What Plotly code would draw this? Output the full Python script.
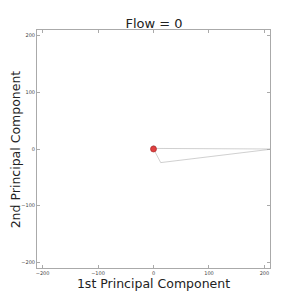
import plotly.graph_objects as go

path_x = [0, 215, 13, 0]
path_y = [1, 0, -24, 0]
point_x = [0]
point_y = [0]
tick_vals = [-200, -100, 0, 100, 200]
tick_text = ["\u2212200", "\u2212100", "0", "100", "200"]

fig = go.Figure()
fig.add_trace(go.Scatter(x=path_x, y=path_y, mode="lines",
                         line=dict(color="rgba(150,150,150,0.45)", width=1), hoverinfo="skip"))
fig.add_trace(go.Scatter(x=[0.5], y=[3], mode="markers",
                         marker=dict(color="rgba(140,140,140,0.6)", size=4)))
fig.add_trace(go.Scatter(x=point_x, y=point_y, mode="markers",
                         marker=dict(color="#e04040", size=6, line=dict(color="#a02020", width=0.6))))

axis_common = dict(range=[-210, 210], tickvals=tick_vals, ticktext=tick_text,
                   tickfont=dict(size=5, color="#444", family="DejaVu Sans"),
                   showgrid=False, zeroline=False, showline=True, mirror="ticks",
                   linecolor="#aaa", linewidth=1, ticks="inside", ticklen=3,
                   tickcolor="#aaa", automargin=False)
fig.update_layout(
    width=300, height=300,
    margin=dict(l=29, r=38, t=22, b=40),
    plot_bgcolor="white", paper_bgcolor="white",
    showlegend=False,
    title=dict(text="Flow = 0", x=0.487, xanchor="center", y=0.948, yanchor="middle",
               font=dict(size=13, color="#222", family="DejaVu Sans")),
    xaxis=dict(**axis_common, title=dict(text="1st Principal Component", standoff=0,
               font=dict(size=12.5, color="#222", family="DejaVu Sans"))),
    yaxis=dict(**axis_common),
    annotations=[dict(text="2nd Principal Component", textangle=-90, showarrow=False,
                      xref="paper", yref="paper", x=-0.093, y=0.5, borderpad=0,
                      xanchor="center", yanchor="middle",
                      font=dict(size=12.5, color="#222", family="DejaVu Sans"))],
)
fig.write_html("out.html")
